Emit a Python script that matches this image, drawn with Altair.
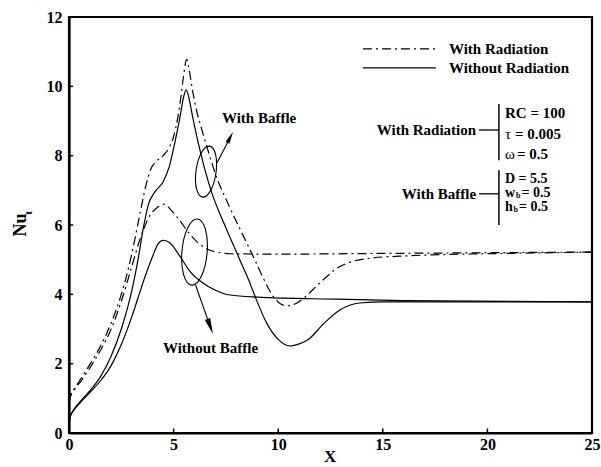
import altair as alt
import pandas as pd

# ---------------- data ----------------
# With Radiation, With Baffle
x_rad_baf = [0, 0.1, 0.3, 0.6, 1.0, 1.5, 2.0, 2.5, 2.8, 3.1, 3.4, 3.7, 3.9, 4.2, 4.5, 4.8, 5.0, 5.2, 5.35,
             5.5, 5.62, 5.75, 5.9, 6.1, 6.35, 6.64, 7.07, 7.5, 8.0, 8.4, 8.8, 9.3, 9.75, 10.1, 10.45, 10.8,
             11.3, 11.8, 12.3, 12.8, 13.4, 14.5, 15.8, 18, 21, 25]
y_rad_baf = [0.9, 1.12, 1.32, 1.6, 1.98, 2.5, 3.15, 4.0, 4.65, 5.45, 6.35, 7.2, 7.6, 7.85, 8.0, 8.25, 8.55,
             9.1, 9.7, 10.4, 10.78, 10.45, 9.9, 9.3, 8.75, 8.16, 7.35, 6.75, 6.1, 5.6, 5.1, 4.45, 3.95, 3.73,
             3.67, 3.72, 3.93, 4.22, 4.5, 4.75, 4.92, 5.05, 5.1, 5.15, 5.18, 5.22]
# With Radiation, Without Baffle
x_rad_nob = [0, 0.1, 0.3, 0.6, 1.0, 1.5, 2.0, 2.5, 3.0, 3.4, 3.8, 4.2, 4.55, 4.85, 5.3, 5.8, 6.3, 6.75,
             7.2, 7.7, 10, 15, 20, 25]
y_rad_nob = [0.9, 1.1, 1.28, 1.52, 1.88, 2.38, 2.98, 3.8, 4.8, 5.6, 6.2, 6.5, 6.6, 6.45, 6.12, 5.72, 5.42,
             5.27, 5.2, 5.17, 5.16, 5.18, 5.2, 5.22]
# Without Radiation, With Baffle
x_nor_baf = [0, 0.05, 0.2, 0.5, 1.0, 1.5, 2.0, 2.5, 3.0, 3.3, 3.55, 3.8, 4.1, 4.5, 4.8, 5.05, 5.3, 5.48,
             5.6, 5.72, 5.9, 6.26, 6.83, 7.3, 7.8, 8.2, 8.6, 8.9, 9.45, 10.0, 10.56, 11.0, 11.4, 12.2,
             12.95, 13.9, 15, 25]
y_nor_baf = [0.25, 0.45, 0.65, 0.88, 1.22, 1.62, 2.2, 3.0, 4.1, 5.0, 5.9, 6.6, 6.95, 7.25, 7.7, 8.35, 9.1,
             9.7, 9.9, 9.7, 9.15, 8.16, 6.92, 6.2, 5.5, 4.95, 4.4, 3.93, 3.17, 2.7, 2.51, 2.57, 2.68,
             3.17, 3.55, 3.75, 3.78, 3.78]
# Without Radiation, Without Baffle
x_nor_nob = [0, 0.05, 0.2, 0.5, 1.0, 1.5, 2.0, 2.5, 3.0, 3.3, 3.6, 4.0, 4.25, 4.5, 4.83, 5.3, 5.8, 6.4,
             7.0, 7.7, 9.0, 12.8, 16, 25]
y_nor_nob = [0.25, 0.45, 0.63, 0.85, 1.17, 1.5, 1.93, 2.55, 3.35, 3.9, 4.45, 5.1, 5.45, 5.56, 5.48, 5.1,
             4.65, 4.33, 4.12, 3.98, 3.92, 3.86, 3.82, 3.78]

x_ticks = [0, 5, 10, 15, 20, 25]
y_ticks = [0, 2, 4, 6, 8, 10, 12]

legend_labels = ["With Radiation", "Without Radiation"]
rad_params = ["RC = 100", "= 0.005", "= 0.5"]
baf_params = ["D = 5.5", "= 0.5", "= 0.5"]

FONT = "Liberation Serif"
DASHDOT = [9, 4, 2, 4]

def frame(xs, ys, case):
    return pd.DataFrame({"x": xs, "y": ys, "case": case})

rad = pd.concat([frame(x_rad_baf, y_rad_baf, "rb"), frame(x_rad_nob, y_rad_nob, "rn")])
nor = pd.concat([frame(x_nor_baf, y_nor_baf, "nb"), frame(x_nor_nob, y_nor_nob, "nn")])

xs = alt.Scale(domain=[0, 25], nice=False, zero=False)
ys = alt.Scale(domain=[0, 12], nice=False, zero=False)

X = alt.X("x:Q", scale=xs,
          axis=alt.Axis(values=x_ticks, title=None, grid=False, ticks=True, tickSize=0,
                        labelPadding=3, labelFont=FONT, labelFontWeight="bold", labelFontSize=16,
                        labelColor="black", domainColor="black", domainWidth=2.2, labelFlush=False))
Y = alt.Y("y:Q", scale=ys,
          axis=alt.Axis(values=y_ticks, title=None, grid=False, ticks=True, tickSize=0,
                        labelPadding=7, labelFont=FONT, labelFontWeight="bold", labelFontSize=16,
                        labelColor="black", domainColor="black", domainWidth=2.2, labelFlush=False))

rad_lines = alt.Chart(rad).mark_line(color="black", strokeWidth=1.2, strokeDash=DASHDOT,
                                     interpolate="monotone").encode(x=X, y=Y, detail="case:N")
nor_lines = alt.Chart(nor).mark_line(color="black", strokeWidth=1.2,
                                     interpolate="monotone").encode(x="x:Q", y="y:Q", detail="case:N")

# inward ticks
xt = pd.DataFrame({"x": x_ticks, "y": [0] * len(x_ticks), "y2": [0.13] * len(x_ticks)})
yt = pd.DataFrame({"y": y_ticks, "x": [0] * len(y_ticks), "x2": [0.2] * len(y_ticks)})
xtick_marks = alt.Chart(xt).mark_rule(color="black", strokeWidth=1.5).encode(x="x:Q", y="y:Q", y2="y2:Q")
ytick_marks = alt.Chart(yt).mark_rule(color="black", strokeWidth=1.5).encode(y="y:Q", x="x:Q", x2="x2:Q")

# legend (top right)
leg_lines = pd.DataFrame({"x": [14.05, 14.05], "x2": [17.54, 17.54], "y": [11.08, 10.53],
                          "kind": ["dd", "solid"]})
leg_dd = alt.Chart(leg_lines[leg_lines.kind == "dd"]).mark_rule(
    color="black", strokeWidth=1.2, strokeDash=DASHDOT).encode(x="x:Q", x2="x2:Q", y="y:Q")
leg_solid = alt.Chart(leg_lines[leg_lines.kind == "solid"]).mark_rule(
    color="black", strokeWidth=1.2).encode(x="x:Q", x2="x2:Q", y="y:Q")
leg_text = alt.Chart(pd.DataFrame({"x": [18.16, 18.16], "y": [11.08, 10.53], "t": legend_labels})).mark_text(
    align="left", baseline="middle", font=FONT, fontWeight="bold", fontSize=15, color="black"
).encode(x="x:Q", y="y:Q", text="t:N")

def txt(df, align="left", size=15, weight="bold", dx=0, dy=0):
    return alt.Chart(df).mark_text(align=align, baseline="middle", font=FONT, fontWeight=weight,
                                   fontSize=size, color="black", dx=dx, dy=dy).encode(
        x="x:Q", y="y:Q", text="t:N")

# parameter blocks
grp_text = txt(pd.DataFrame({"x": [19.46, 19.46], "y": [8.74, 6.9],
                             "t": ["With Radiation", "With Baffle"]}), align="right")
connectors = alt.Chart(pd.DataFrame({"x": [19.6, 19.6], "x2": [20.55, 20.55], "y": [8.74, 6.9]})).mark_rule(
    color="black", strokeWidth=1.3).encode(x="x:Q", x2="x2:Q", y="y:Q")
bars = alt.Chart(pd.DataFrame({"x": [20.55, 20.55], "y": [9.49, 7.58], "y2": [7.87, 6.0]})).mark_rule(
    color="black", strokeWidth=1.5).encode(x="x:Q", y="y:Q", y2="y2:Q")

PX = 20.84
p_rc = txt(pd.DataFrame({"x": [PX], "y": [9.22], "t": [rad_params[0]]}))
p_tau_sym = txt(pd.DataFrame({"x": [PX], "y": [8.62], "t": ["τ"]}), weight="normal")
p_tau = txt(pd.DataFrame({"x": [PX], "y": [8.62], "t": [rad_params[1]]}), dx=10)
p_om_sym = txt(pd.DataFrame({"x": [PX], "y": [8.05], "t": ["ω"]}), weight="normal")
p_om = txt(pd.DataFrame({"x": [PX], "y": [8.05], "t": [rad_params[2]]}), dx=12)
p_d = txt(pd.DataFrame({"x": [PX], "y": [7.33], "t": [baf_params[0]]}), size=14)
p_w = txt(pd.DataFrame({"x": [PX], "y": [6.93], "t": ["w"]}), size=14)
p_wb = txt(pd.DataFrame({"x": [PX], "y": [6.93], "t": ["b"]}), size=8, dx=11, dy=3)
p_wv = txt(pd.DataFrame({"x": [PX], "y": [6.93], "t": [baf_params[1]]}), size=14, dx=16.5)
p_h = txt(pd.DataFrame({"x": [PX], "y": [6.53], "t": ["h"]}), size=14)
p_hb = txt(pd.DataFrame({"x": [PX], "y": [6.53], "t": ["b"]}), size=8, dx=8.5, dy=3)
p_hv = txt(pd.DataFrame({"x": [PX], "y": [6.53], "t": [baf_params[2]]}), size=14, dx=14)

# ellipses and arrows
def ellipse_path(a):
    k = 0.5523
    return (f"M0,-1C{a*k:.3f},-1 {a:.3f},{-k} {a:.3f},0C{a:.3f},{k} {a*k:.3f},1 0,1"
            f"C{-a*k:.3f},1 {-a:.3f},{k} {-a:.3f},0C{-a:.3f},{-k} {-a*k:.3f},-1 0,-1Z")

ell1 = alt.Chart(pd.DataFrame({"x": [6.55], "y": [7.54]})).mark_point(
    shape=ellipse_path(0.39), size=2650, angle=8, filled=False, color="black", strokeWidth=1.1, opacity=1
).encode(x="x:Q", y="y:Q")
ell2 = alt.Chart(pd.DataFrame({"x": [6.0], "y": [5.22]})).mark_point(
    shape=ellipse_path(0.38), size=4400, angle=5, filled=False, color="black", strokeWidth=1.1, opacity=1
).encode(x="x:Q", y="y:Q")

HEAD = "M0,-1L0.36,1L-0.36,1Z"
shafts = alt.Chart(pd.DataFrame({"x": [7.07, 6.05], "y": [7.79, 4.27],
                                 "x2": [7.71, 6.75], "y2": [8.53, 3.07]})).mark_rule(
    color="black", strokeWidth=1.1).encode(x="x:Q", y="y:Q", x2="x2:Q", y2="y2:Q")
head1 = alt.Chart(pd.DataFrame({"x": [7.71], "y": [8.53]})).mark_point(
    shape=HEAD, size=150, angle=27, filled=True, color="black", opacity=1).encode(x="x:Q", y="y:Q")
head2 = alt.Chart(pd.DataFrame({"x": [6.75], "y": [3.07]})).mark_point(
    shape=HEAD, size=256, angle=160, filled=True, color="black", opacity=1).encode(x="x:Q", y="y:Q")

ann_text = txt(pd.DataFrame({"x": [7.31, 4.49], "y": [9.09, 2.45], "t": ["With Baffle", "Without Baffle"]}))

# axis titles
x_title = alt.Chart(pd.DataFrame({"x": [12.48], "y": [-0.7], "t": ["X"]})).mark_text(
    font=FONT, fontWeight="bold", fontSize=17, color="black", baseline="middle", align="center"
).encode(x="x:Q", y="y:Q", text="t:N")
y_title = alt.Chart(pd.DataFrame({"x": [-2.29], "y": [6.0], "t": ["Nu"]})).mark_text(
    font=FONT, fontWeight="bold", fontSize=18, color="black", baseline="middle", align="center", angle=270
).encode(x="x:Q", y="y:Q", text="t:N")
y_title_sub = alt.Chart(pd.DataFrame({"x": [-1.9], "y": [6.35], "t": ["t"]})).mark_text(
    font=FONT, fontWeight="bold", fontSize=11, color="black", baseline="middle", align="center", angle=270
).encode(x="x:Q", y="y:Q", text="t:N")

chart = alt.layer(
    rad_lines, nor_lines, xtick_marks, ytick_marks,
    leg_dd, leg_solid, leg_text,
    grp_text, connectors, bars,
    p_rc, p_tau_sym, p_tau, p_om_sym, p_om, p_d, p_w, p_wb, p_wv, p_h, p_hb, p_hv,
    ell1, ell2, shafts, head1, head2, ann_text, x_title, y_title, y_title_sub,
).properties(
    width=523, height=416,
    autosize=alt.AutoSizeParams(type="none"),
    padding={"left": 69, "top": 17, "right": 9, "bottom": 34},
    background="white",
).configure_view(stroke="black", strokeWidth=2.2).configure_axis(
    labelFont=FONT, labelFontWeight="bold"
).configure_text(font=FONT)

chart.save("out.html", embed_options={"renderer": "svg", "actions": False})
